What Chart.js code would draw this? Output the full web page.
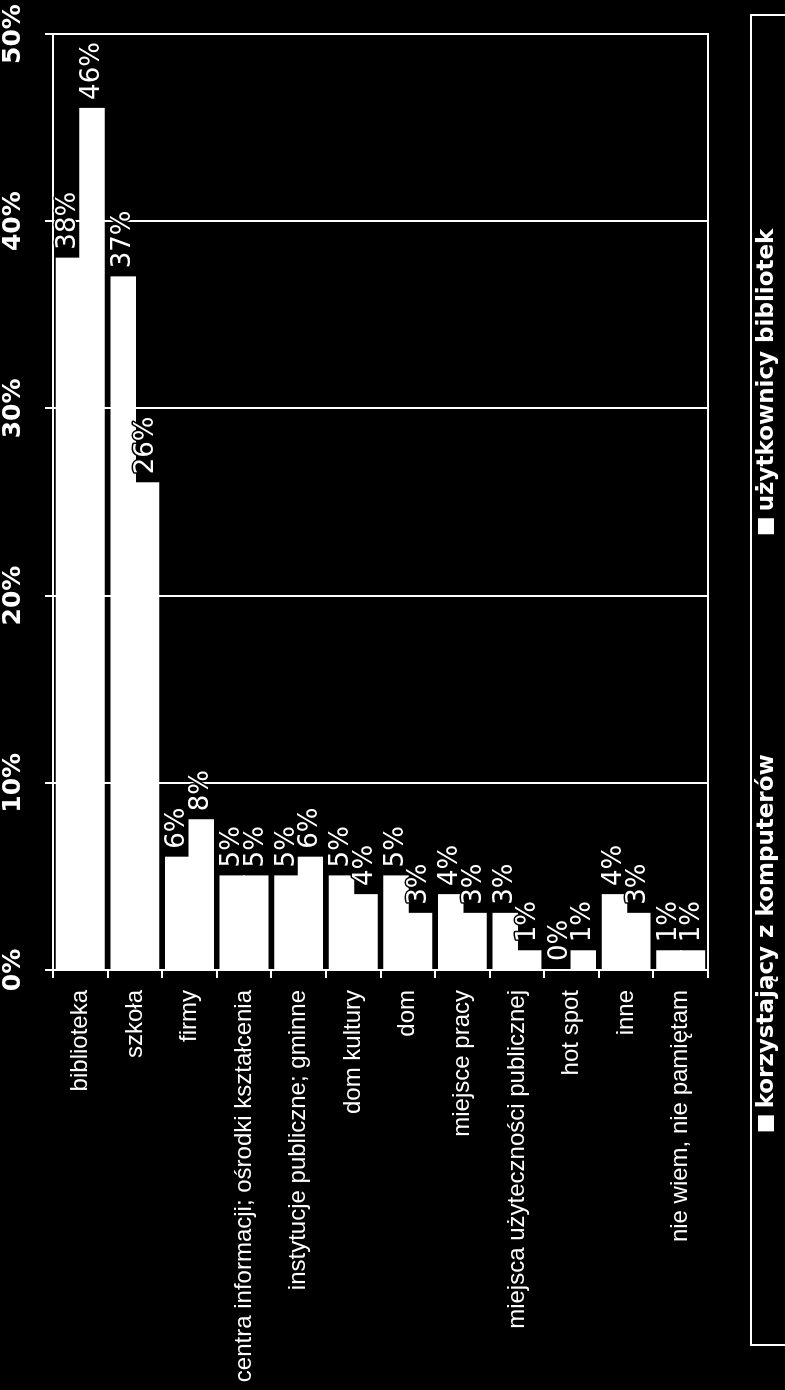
<!DOCTYPE html>
<html>
<head>
<meta charset="utf-8">
<script src="https://cdn.jsdelivr.net/npm/chart.js@4.4.0/dist/chart.umd.min.js"></script>
<style>
  html, body { margin: 0; padding: 0; background: #000; overflow: hidden; }
  /* chart is drawn as a horizontal bar chart, then turned on its side */
  #wrap { position: absolute; left: 0; top: 0; width: 1390px; height: 785px;
          transform-origin: 0 0; transform: translate(0, 1390px) rotate(-90deg); }
</style>
</head>
<body>
<div id="wrap"><canvas id="placesChart" width="1390" height="785"></canvas></div>
<script>
const categories = [
    'biblioteka',
    'szkoła',
    'firmy',
    'centra informacji; ośrodki kształcenia',
    'instytucje publiczne; gminne',
    'dom kultury',
    'dom',
    'miejsce pracy',
    'miejsca użyteczności publicznej',
    'hot spot',
    'inne',
    'nie wiem, nie pamiętam'
];
const seriesNames = ['korzystający z komputerów', 'użytkownicy bibliotek'];
const computerUsers = [38, 37, 6, 5, 5, 5, 5, 4, 3, 0, 4, 1];
const libraryUsers = [46, 26, 8, 5, 6, 4, 3, 3, 1, 1, 3, 1];
const percentTicks = [0, 10, 20, 30, 40, 50];

// white frame round the plot area
const plotFrame = {
    id: 'plotFrame',
    afterDatasetsDraw(chart) {
        const a = chart.chartArea;
        const ctx = chart.ctx;
        ctx.save();
        ctx.strokeStyle = '#fff';
        ctx.lineWidth = 2;
        ctx.strokeRect(a.left, a.top, a.right - a.left, a.bottom - a.top);
        ctx.restore();
    }
};

// value labels at the end of each bar
const barLabels = {
    id: 'barLabels',
    afterDatasetsDraw(chart) {
        const ctx = chart.ctx;
        ctx.save();
        ctx.font = '26px "DejaVu Sans"';
        ctx.textAlign = 'left';
        ctx.textBaseline = 'middle';
        ctx.lineJoin = 'round';
        ctx.lineWidth = 3;
        chart.data.datasets.forEach((ds, di) => {
            chart.getDatasetMeta(di).data.forEach((bar, i) => {
                const txt = ds.data[i] + '%';
                ctx.strokeStyle = '#000';
                ctx.strokeText(txt, bar.x + 9, bar.y);
                ctx.fillStyle = '#fff';
                ctx.fillText(txt, bar.x + 9, bar.y);
            });
        });
        ctx.restore();
    }
};

// framed legend along the bottom
const legendBox = {
    id: 'legendBox',
    afterDraw(chart) {
        const ctx = chart.ctx;
        ctx.save();
        ctx.strokeStyle = '#fff';
        ctx.lineWidth = 2;
        ctx.strokeRect(45, 751, 1330, 60);
        ctx.font = 'bold 23px "DejaVu Sans"';
        ctx.textBaseline = 'middle';
        ctx.textAlign = 'left';
        const box = 16, gap = 7, between = 220;
        const widths = seriesNames.map(n => box + gap + ctx.measureText(n).width);
        let x = 710 - (widths[0] + widths[1] + between) / 2;
        seriesNames.forEach((name, i) => {
            ctx.fillStyle = '#fff';
            ctx.fillRect(x, 758, box, box);
            ctx.fillText(name, x + box + gap, 767);
            x += widths[i] + between;
        });
        ctx.restore();
    }
};

const ctx = document.getElementById('placesChart').getContext('2d');
const placesChart = new Chart(ctx, {
    type: 'bar',
    data: {
        labels: categories,
        datasets: [
            { label: seriesNames[0], data: computerUsers, backgroundColor: '#ffffff', inflateAmount: 1 },
            { label: seriesNames[1], data: libraryUsers, backgroundColor: '#ffffff', inflateAmount: 1 }
        ]
    },
    options: {
        indexAxis: 'y',
        responsive: false,
        animation: false,
        devicePixelRatio: 1,
        categoryPercentage: 0.86,
        barPercentage: 1,
        layout: { padding: { left: 0, top: 0, right: 34, bottom: 77 } },
        plugins: {
            legend: { display: false },
            tooltip: { enabled: false }
        },
        scales: {
            x: {
                position: 'top',
                min: 0,
                max: 50,
                afterBuildTicks: s => { s.ticks = percentTicks.map(v => ({ value: v })); },
                afterFit: s => { s.height = 53; s.paddingLeft = 0; s.paddingRight = 0; },
                ticks: {
                    color: '#fff',
                    padding: 17,
                    font: { family: 'DejaVu Sans', size: 25, weight: 'bold' },
                    callback: v => v + '%'
                },
                grid: { color: '#fff', lineWidth: 2, tickLength: 8 },
                border: { color: '#fff', width: 2 }
            },
            y: {
                afterFit: s => { s.width = 420; },
                ticks: {
                    color: '#fff',
                    padding: 12,
                    autoSkip: false,
                    font: { family: 'Liberation Sans', size: 24 }
                },
                grid: { color: '#fff', lineWidth: 2, tickLength: 8, drawOnChartArea: false },
                border: { color: '#fff', width: 2 }
            }
        }
    },
    plugins: [plotFrame, barLabels, legendBox]
});
</script>
</body>
</html>
